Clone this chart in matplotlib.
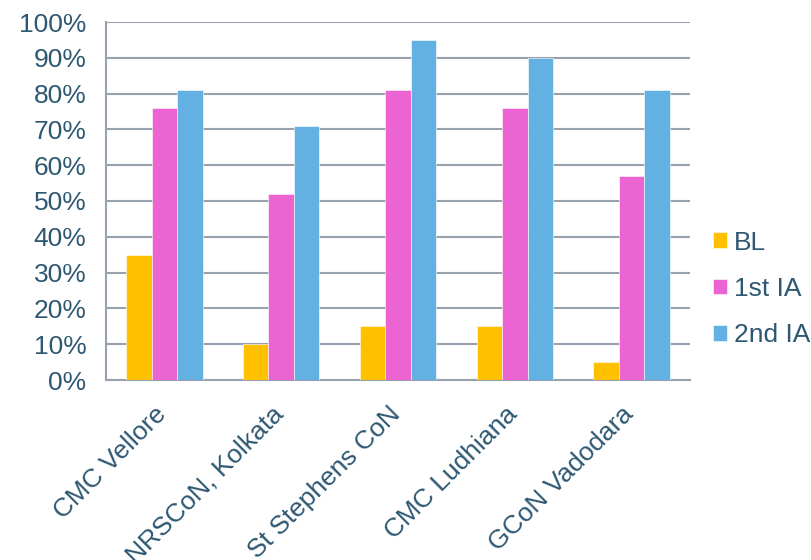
import matplotlib.pyplot as plt
import matplotlib.transforms as mtransforms
import numpy as np

# data
sites = ['CMC Vellore', 'NRSCoN, Kolkata', 'St Stephens CoN', 'CMC Ludhiana', 'GCoN Vadodara']
bl = [35, 10, 15, 15, 5]
ia1 = [76, 52, 81, 76, 57]
ia2 = [81, 71, 95, 90, 81]
series_names = ['BL', '1st IA', '2nd IA']
colors = ['#FFC000', '#EC63D2', '#62B1E2']

plt.rcParams['font.family'] = ['Liberation Sans', 'DejaVu Sans']
txt = '#2E5872'
grid_c = '#98A2AE'
fs = 19

fig = plt.figure(figsize=(8.11, 5.6), dpi=100)
ax = fig.add_axes([106 / 811, 1 - 380 / 560, 584 / 811, 358 / 560])

x = np.arange(len(sites))
w = 0.218
for i, (vals, name) in enumerate(zip([bl, ia1, ia2], series_names)):
    ax.bar(x + (i - 1) * w, vals, w, color=colors[i], label=name,
           edgecolor='white', linewidth=0.4, zorder=3)

ax.set_xlim(-0.5, len(sites) - 0.5)
ax.set_ylim(0, 100)
ax.set_yticks(range(0, 101, 10))
ax.set_yticklabels([f'{v}%' for v in range(0, 101, 10)])
ax.set_xticks(x)
ax.set_xticklabels(sites, rotation=45, ha='right', rotation_mode='anchor')
ax.tick_params(axis='both', length=0, labelsize=fs, colors=txt)
ax.tick_params(axis='y', pad=14)
ax.tick_params(axis='x', pad=16)

# nudge the rotated labels a bit to the left
shift = mtransforms.ScaledTranslation(-10 / 100, 0, fig.dpi_scale_trans)
for lab in ax.get_xticklabels():
    lab.set_transform(lab.get_transform() + shift)

ax.yaxis.grid(True, color=grid_c, linewidth=1.5, zorder=0)
for s in ['top', 'right']:
    ax.spines[s].set_visible(False)
for s in ['left', 'bottom']:
    ax.spines[s].set_color(grid_c)
    ax.spines[s].set_linewidth(1.5)

leg = ax.legend(loc='center left', bbox_to_anchor=(713 / 811, 1 - 289 / 560),
                bbox_transform=fig.transFigure, frameon=False,
                fontsize=fs, handlelength=0.53, handleheight=0.53, handletextpad=0.25,
                labelspacing=0.85, borderaxespad=0, borderpad=0)
for t in leg.get_texts():
    t.set_color(txt)

plt.savefig('out.png', dpi=100)
